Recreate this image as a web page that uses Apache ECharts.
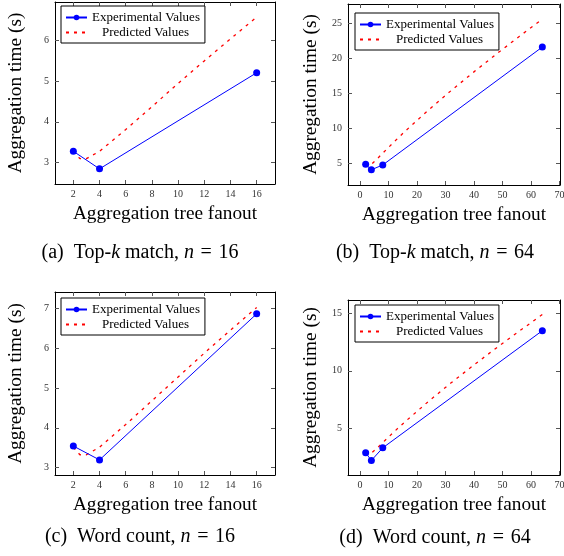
<!DOCTYPE html>
<html>
<head>
<meta charset="utf-8">
<script src="https://cdn.jsdelivr.net/npm/echarts@6/dist/echarts.min.js"></script>
<style>
html, body { margin: 0; padding: 0; background: #fff; }
#chart { width: 564px; height: 556px; }
</style>
</head>
<body>
<div id="chart"></div>
<script>
var fanout16 = [2, 4, 16];
var fanout64 = [2, 4, 8, 64];
var topk16Exp = [3.28, 2.85, 5.2];
var word16Exp = [3.54, 3.19, 6.87];
var topk64Exp = [4.8, 4.02, 4.71, 21.6];
var word64Exp = [2.84, 2.17, 3.27, 13.5];

// predicted curves (dashed), sampled off the figure
var fanout16Pred = [2, 2.5, 3, 4, 6, 8, 10, 12, 14, 16];
var topk16Pred = [3.28, 3.10, 3.10, 3.28, 3.81, 4.37, 4.94, 5.49, 6.03, 6.56];
var word16Pred = [3.51, 3.32, 3.32, 3.51, 4.08, 4.68, 5.28, 5.88, 6.46, 7.03];
var fanout64Pred = [2, 3, 4, 6, 8, 12, 16, 24, 32, 40, 48, 56, 64];
var topk64Pred = [4.80, 4.54, 4.80, 5.57, 6.40, 8.03, 9.60, 12.56, 15.36, 18.04, 20.63, 23.14, 25.6];
var word64Pred = [2.80, 2.65, 2.80, 3.25, 3.73, 4.68, 5.59, 7.32, 8.95, 10.51, 12.02, 13.48, 14.91];

// tick labels
var xTicks16 = [2, 4, 6, 8, 10, 12, 14, 16];
var xTicks64 = [0, 10, 20, 30, 40, 50, 60, 70];
var yTicksA = [3, 4, 5, 6];
var yTicksB = [5, 10, 15, 20, 25];
var yTicksC = [3, 4, 5, 6, 7];
var yTicksD = [5, 10, 15];

var serif = '"Liberation Serif", "DejaVu Serif", serif';

function pairs(xs, ys) {
    return xs.map(function (x, i) { return [x, ys[i]]; });
}

var panels = [
    { grid: { left: 55, top: 2, width: 220, height: 182 }, x: [0.6, 17.4], y: [2.48, 6.93],
      xt: xTicks16, yt: yTicksA, fx: fanout16, ex: topk16Exp, fp: fanout16Pred, pr: topk16Pred,
      nameGapY: 30, legend: { left: 61, top: 6 },
      cap: { x: 140, y: 253, tag: '(a)', pre: 'Top-', k: true, mid: ' match, ', n: '16' } },
    { grid: { left: 348, top: 4, width: 212, height: 181 }, x: [-4.2, 70.2], y: [1.84, 27.76],
      xt: xTicks64, yt: yTicksB, fx: fanout64, ex: topk64Exp, fp: fanout64Pred, pr: topk64Pred,
      nameGapY: 28, legend: { left: 355, top: 13 },
      cap: { x: 435, y: 253, tag: '(b)', pre: 'Top-', k: true, mid: ' match, ', n: '64' } },
    { grid: { left: 55, top: 292, width: 220, height: 183 }, x: [0.6, 17.4], y: [2.81, 7.42],
      xt: xTicks16, yt: yTicksC, fx: fanout16, ex: word16Exp, fp: fanout16Pred, pr: word16Pred,
      nameGapY: 30, legend: { left: 61, top: 298 },
      cap: { x: 140, y: 537, tag: '(c)', pre: 'Word count, ', k: false, mid: '', n: '16' } },
    { grid: { left: 348, top: 300, width: 212, height: 175 }, x: [-4.2, 70.2], y: [0.9, 16.18],
      xt: xTicks64, yt: yTicksD, fx: fanout64, ex: word64Exp, fp: fanout64Pred, pr: word64Pred,
      nameGapY: 28, legend: { left: 355, top: 305 },
      cap: { x: 435, y: 538, tag: '(d)', pre: 'Word count, ', k: false, mid: '', n: '64' } }
];

var grids = [], xAxes = [], yAxes = [], series = [], legends = [], graphics = [];

panels.forEach(function (p, gi) {
    grids.push(Object.assign({ containLabel: false, outerBoundsMode: 'none' }, p.grid));

    ['bottom', 'top'].forEach(function (pos) {
        xAxes.push({
            type: 'value', gridIndex: gi, position: pos, min: p.x[0], max: p.x[1],
            name: pos === 'bottom' ? 'Aggregation tree fanout' : '',
            nameLocation: 'middle', nameGap: 20,
            nameTextStyle: { fontFamily: serif, fontSize: 19.3, color: '#000' },
            axisLine: { show: true, onZero: false, lineStyle: { color: '#000', width: 1 } },
            axisTick: { show: true, inside: true, length: 4, customValues: p.xt, lineStyle: { color: '#555' } },
            axisLabel: { show: pos === 'bottom', customValues: p.xt, fontFamily: serif, fontSize: 10, color: '#333', margin: 5 },
            splitLine: { show: false }
        });
    });
    ['left', 'right'].forEach(function (pos) {
        yAxes.push({
            type: 'value', gridIndex: gi, position: pos, min: p.y[0], max: p.y[1],
            name: pos === 'left' ? 'Aggregation time (s)' : '',
            nameLocation: 'middle', nameGap: p.nameGapY,
            nameTextStyle: { fontFamily: serif, fontSize: 19.3, color: '#000' },
            axisLine: { show: true, onZero: false, lineStyle: { color: '#000', width: 1 } },
            axisTick: { show: true, inside: true, length: 4, customValues: p.yt, lineStyle: { color: '#555' } },
            axisLabel: { show: pos === 'left', customValues: p.yt, fontFamily: serif, fontSize: 10, color: '#333', margin: 6 },
            splitLine: { show: false }
        });
    });

    series.push({
        name: 'Predicted Values', type: 'line', xAxisIndex: gi * 2, yAxisIndex: gi * 2,
        data: pairs(p.fp, p.pr), symbol: 'none', color: '#ff0000',
        lineStyle: { color: '#ff0000', width: 1.3, type: [3, 5] }
    });
    series.push({
        name: 'Experimental Values', type: 'line', xAxisIndex: gi * 2, yAxisIndex: gi * 2,
        data: pairs(p.fx, p.ex), symbol: 'circle', symbolSize: 7, color: '#0000ff',
        lineStyle: { color: '#0000ff', width: 1 }, itemStyle: { color: '#0000ff' }
    });

    legends.push({
        orient: 'vertical', left: p.legend.left, top: p.legend.top,
        itemWidth: 21, itemHeight: 7, itemGap: 2, padding: [5, 5, 4, 4],
        borderColor: '#000', borderWidth: 1, backgroundColor: '#fff',
        textStyle: { fontFamily: serif, fontSize: 13, color: '#000' },
        data: [
            { name: 'Experimental Values' },
            { name: 'Predicted Values', itemStyle: { opacity: 0 }, textStyle: { padding: [0, 0, 0, 10] } }
        ]
    });

    var c = p.cap;
    var txt = '{r|' + c.tag + '\u2002' + c.pre + '}' + (c.k ? '{i|k}{r|' + c.mid + '}' : '') +
        '{i|n}{r|\u2004=\u2004' + c.n + '}';
    graphics.push({
        type: 'text', x: c.x, y: c.y,
        style: {
            text: txt, align: 'center', verticalAlign: 'middle',
            fontFamily: serif, fontSize: 20, fill: '#000',
            rich: {
                r: { fontFamily: serif, fontSize: 20, color: '#000' },
                i: { fontFamily: serif, fontSize: 20, fontStyle: 'italic', color: '#000' }
            }
        }
    });
});

var myChart = echarts.init(document.getElementById('chart'), null, { renderer: 'canvas' });
myChart.setOption({
    animation: false,
    backgroundColor: '#fff',
    grid: grids,
    xAxis: xAxes,
    yAxis: yAxes,
    legend: legends,
    series: series,
    graphic: graphics
});
</script>
</body>
</html>
